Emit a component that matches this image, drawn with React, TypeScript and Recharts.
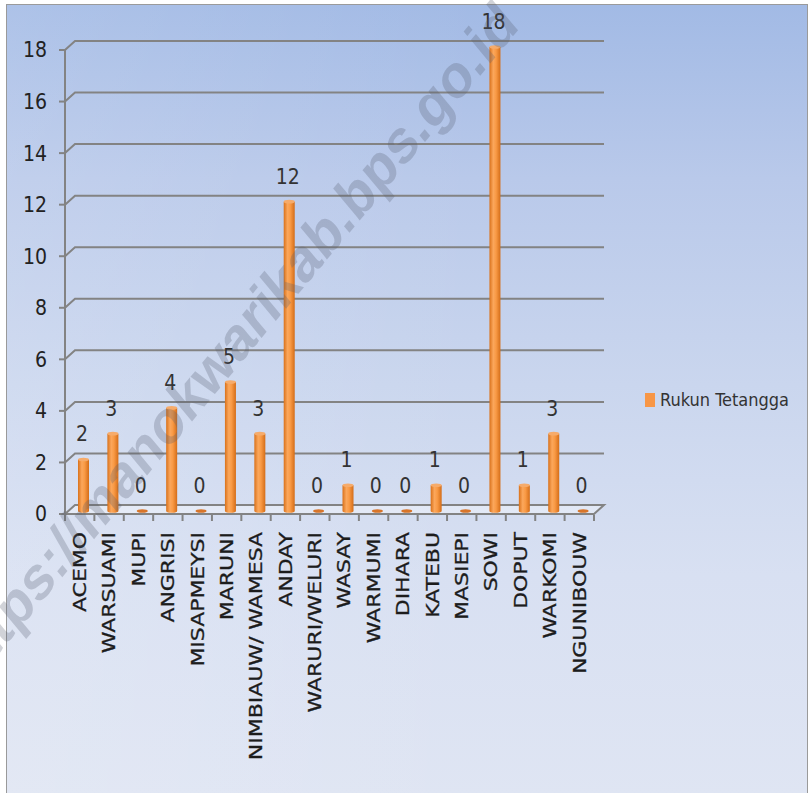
import { BarChart, Bar, XAxis, YAxis, CartesianGrid, Legend, LabelList } from 'recharts'

const categories = [
  'ACEMO', 'WARSUAMI', 'MUPI', 'ANGRISI', 'MISAPMEYSI', 'MARUNI', 'NIMBIAUW/ WAMESA', 'ANDAY',
  'WARURI/WELURI', 'WASAY', 'WARMUMI', 'DIHARA', 'KATEBU', 'MASIEPI', 'SOWI', 'DOPUT', 'WARKOMI', 'NGUNIBOUW',
]
const rukunTetangga = [2, 3, 0, 4, 0, 5, 3, 12, 0, 1, 0, 0, 1, 0, 18, 1, 3, 0]
const yTicks = [0, 2, 4, 6, 8, 10, 12, 14, 16, 18]
const seriesName = 'Rukun Tetangga'
const watermark = 'https://manokwarikab.bps.go.id'

const data = categories.map((name, i) => ({ name, value: rukunTetangga[i] }))

// 3D depth offsets (back wall vs front axis)
const DX = 10
const DY = 9
const BAR_DX = 4
const BAR_DY = 3
const HALF_BAND = 14.7

const numFont = "'Liberation Sans Narrow', 'DejaVu Sans Condensed', 'DejaVu Sans', sans-serif"
const gridColor = '#838383'

function GridLine(p: any) {
  const { x1, y1, x2, y2 } = p
  const bottom = p.y != null && p.height != null ? p.y + p.height : 514
  if (Math.abs(y1 - bottom) < 1) {
    return (
      <g key={p.key}>
        <polygon
          points={`${x1},${y1} ${x2},${y2} ${x2 + DX},${y2 - DY} ${x1 + DX},${y1 - DY}`}
          fill="rgba(255,255,255,0.35)"
          stroke={gridColor}
          strokeWidth={2}
        />
      </g>
    )
  }
  return (
    <path
      key={p.key}
      d={`M${x1},${y1} L${x1 + DX},${y1 - DY} L${x2 + DX},${y2 - DY}`}
      stroke={gridColor}
      strokeWidth={2}
      fill="none"
    />
  )
}

function Cylinder(p: any) {
  const { x, y, width, height, value } = p
  const cx = x + width / 2 + BAR_DX
  const r = width / 2
  const top = y - BAR_DY
  if (!value) {
    return <ellipse cx={cx} cy={top} rx={r} ry={1.8} fill="#d8752a" />
  }
  const bottom = top + height
  return (
    <g>
      <path
        d={`M${cx - r},${top} L${cx - r},${bottom} A${r},1.8 0 0 0 ${cx + r},${bottom} L${cx + r},${top} Z`}
        fill="url(#cyl)"
      />
      <ellipse cx={cx} cy={top} rx={r} ry={1.8} fill="#f6ab6a" />
    </g>
  )
}

function ValueLabel(p: any) {
  const { x, y, width, value } = p
  return (
    <text
      x={x + width / 2 + 2.5}
      y={y - 28}
      textAnchor="middle"
      dominantBaseline="central"
      fontSize={21}
      fontFamily={numFont}
      fill="#333"
    >
      {value}
    </text>
  )
}

function CategoryTick(p: any) {
  const { x, y, payload, index } = p
  return (
    <g>
      <line x1={x - HALF_BAND} y1={y + 1} x2={x - HALF_BAND} y2={y + 7} stroke={gridColor} strokeWidth={2} />
      {index === categories.length - 1 && (
        <line x1={x + HALF_BAND} y1={y + 1} x2={x + HALF_BAND} y2={y + 7} stroke={gridColor} strokeWidth={2} />
      )}
      <g transform={`translate(${x},${y + 18})`}>
        <text
          transform="rotate(-90) scale(1.22,1)"
          textAnchor="end"
          dominantBaseline="central"
          fontSize={18}
          fontFamily="'DejaVu Sans', sans-serif"
          fill="#1c1c1c"
          stroke="#1c1c1c"
          strokeWidth={0.3}
        >
          {payload.value}
        </text>
      </g>
    </g>
  )
}

function LegendBox() {
  return (
    <div style={{ display: 'flex', alignItems: 'center', whiteSpace: 'nowrap' }}>
      <span style={{ display: 'inline-block', width: 10, height: 14, background: '#f79646', marginRight: 5 }} />
      <span style={{ fontFamily: numFont, fontSize: 18, color: '#333' }}>{seriesName}</span>
    </div>
  )
}

export default function App() {
  return (
    <div style={{ position: 'absolute', left: 0, top: 0, width: 811, height: 793, background: '#fff', overflow: 'hidden' }}>
      <div
        style={{
          position: 'absolute',
          left: 6,
          top: 4,
          width: 800,
          height: 792,
          border: '1px solid #9a9a9a',
          borderBottom: 'none',
          background:
            'linear-gradient(90deg, rgba(255,255,255,0.12), rgba(255,255,255,0) 60%), linear-gradient(180deg, #a2bae5 0%, #b9c9ea 22%, #cad6ee 48%, #d8e0f2 72%, #dfe5f3 100%)',
        }}
      />
      <div style={{ position: 'absolute', left: 0, top: 0 }}>
        <BarChart width={811} height={793} data={data} margin={{ top: 50, right: 217, left: 8, bottom: 79 }}>
          <defs>
            <linearGradient id="cyl" x1="0" y1="0" x2="1" y2="0">
              <stop offset="0%" stopColor="#d9711a" />
              <stop offset="35%" stopColor="#fba75c" />
              <stop offset="60%" stopColor="#f99a45" />
              <stop offset="100%" stopColor="#d46d18" />
            </linearGradient>
          </defs>
          <CartesianGrid vertical={false} horizontal={GridLine as any} />
          <XAxis
            dataKey="name"
            interval={0}
            height={200}
            axisLine={false}
            tickLine={false}
            tickSize={0}
            tickMargin={0}
            tick={<CategoryTick />}
          />
          <YAxis
            domain={[0, 18]}
            ticks={yTicks}
            width={57}
            axisLine={{ stroke: gridColor, strokeWidth: 2 }}
            tickLine={{ stroke: gridColor, strokeWidth: 2 }}
            tickSize={6}
            tickMargin={12}
            tick={{ fontSize: 21, fontFamily: numFont, fill: '#222' }}
          />
          <Legend
            align="center"
            verticalAlign="middle"
            wrapperStyle={{ left: 645, top: 389, width: 'auto' }}
            content={<LegendBox />}
          />
          <Bar dataKey="value" name={seriesName} barSize={11} shape={<Cylinder />} isAnimationActive={false}>
            <LabelList dataKey="value" content={<ValueLabel />} />
          </Bar>
        </BarChart>
      </div>
      <div
        style={{
          position: 'absolute',
          left: 232,
          top: 343,
          width: 0,
          height: 0,
          transform: 'scale(1, 1.2) rotate(-45deg)',
          transformOrigin: '0 0',
          pointerEvents: 'none',
        }}
      >
        <span
          style={{
            position: 'absolute',
            left: 0,
            top: 0,
            transform: 'translate(-50%, -50%)',
            whiteSpace: 'nowrap',
            fontFamily: "'Liberation Sans', Arial, sans-serif",
            fontWeight: 'bold',
            fontSize: 52,
            color: 'rgba(85, 92, 110, 0.27)',
          }}
        >
          {watermark}
        </span>
      </div>
    </div>
  )
}
